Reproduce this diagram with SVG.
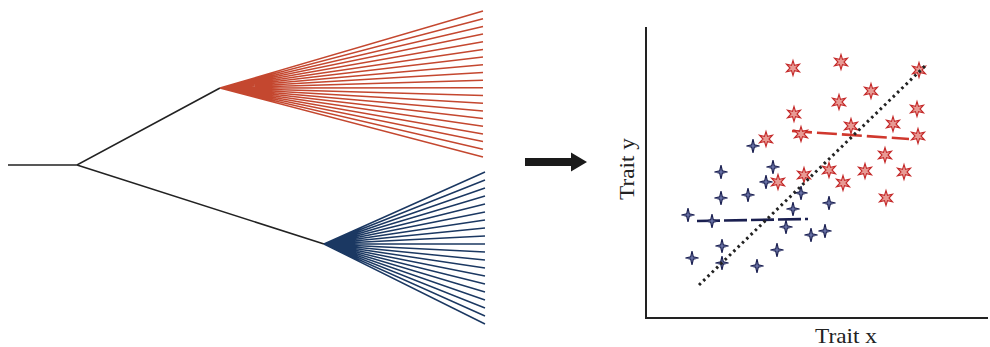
<svg xmlns="http://www.w3.org/2000/svg" xmlns:xlink="http://www.w3.org/1999/xlink" width="990" height="347" viewBox="0 0 990 347">
<defs>
<style>
.tree{stroke:#222;stroke-width:1.6;fill:none}
.red{stroke:#c4472f;stroke-width:1.5;fill:none}
.blue{stroke:#1b3862;stroke-width:1.5;fill:none}
.axis{stroke:#222;stroke-width:2;fill:none}
.lbl{font-family:"Liberation Serif","DejaVu Serif",serif;font-size:22px;fill:#222}
.rs{fill:#e89a94;stroke:#c42a2a;stroke-width:1.1;stroke-linejoin:miter}
.bs{fill:#6c75a8;stroke:#1a1f50;stroke-width:1.1}
</style>
<path id="r6" d="M0,-7.5 L1.5,-2.6 L6.5,-3.75 L3,0 L6.5,3.75 L1.5,2.6 L0,7.5 L-1.5,2.6 L-6.5,3.75 L-3,0 L-6.5,-3.75 L-1.5,-2.6 Z"/>
<path id="b4" d="M0,-7 L1.3,-1.3 L6.5,0 L1.3,1.3 L0,7 L-1.3,1.3 L-6.5,0 L-1.3,-1.3 Z"/>
</defs>
<rect width="990" height="347" fill="#fff"/>
<g id="tree">
<path class="tree" d="M8,165 H77 L220,88 M77,165 L324,244"/>
</g>
<g id="red-clade">
<path class="red" d="M220,88 L483,11 M220,88 L483,18.7 M220,88 L483,26.4 M220,88 L483,34.1 M220,88 L483,41.7 M220,88 L483,49.4 M220,88 L483,57.1 M220,88 L483,64.8 M220,88 L483,72.5 M220,88 L483,80.2 M220,88 L483,87.8 M220,88 L483,95.5 M220,88 L483,103.2 M220,88 L483,110.9 M220,88 L483,118.6 M220,88 L483,126.3 M220,88 L483,133.9 M220,88 L483,141.6 M220,88 L483,149.3 M220,88 L483,157"/>
</g>
<g id="blue-clade">
<path class="blue" d="M324,244 L485,172 M324,244 L485,180 M324,244 L485,188 M324,244 L485,196 M324,244 L485,204 M324,244 L485,212 M324,244 L485,220 M324,244 L485,228 M324,244 L485,236 M324,244 L485,244 M324,244 L485,252 M324,244 L485,260 M324,244 L485,268 M324,244 L485,276 M324,244 L485,284 M324,244 L485,292 M324,244 L485,300 M324,244 L485,308 M324,244 L485,316 M324,244 L485,324"/>
</g>
<g id="arrow">
<path d="M525,158 H571 V152.5 L587,162 L571,171.5 V166 H525 Z" fill="#1a1a1a"/>
</g>
<g id="plot">
<path class="axis" d="M646,27 V318 H988"/>
<text class="lbl" x="846" y="343" text-anchor="middle" textLength="62" lengthAdjust="spacingAndGlyphs">Trait x</text>
<text class="lbl" transform="translate(634,169) rotate(-90)" text-anchor="middle" textLength="62" lengthAdjust="spacingAndGlyphs">Trait y</text>
</g>
<g id="connectors">
<path d="M697,221 L808,219" stroke="#1a1f50" stroke-width="2.6" stroke-dasharray="23 4" fill="none"/>
<path d="M792,131 L909,139" stroke="#d0382e" stroke-width="2.6" stroke-dasharray="20 5" fill="none"/>
</g>
<g id="blue-points" class="bs">
<use xlink:href="#b4" x="753" y="146"/>
<use xlink:href="#b4" x="721" y="172"/>
<use xlink:href="#b4" x="773" y="167"/>
<use xlink:href="#b4" x="766" y="182"/>
<use xlink:href="#b4" x="721" y="198"/>
<use xlink:href="#b4" x="748" y="195"/>
<use xlink:href="#b4" x="801" y="193"/>
<use xlink:href="#b4" x="829" y="203"/>
<use xlink:href="#b4" x="793" y="209"/>
<use xlink:href="#b4" x="688" y="215"/>
<use xlink:href="#b4" x="712" y="221"/>
<use xlink:href="#b4" x="786" y="227"/>
<use xlink:href="#b4" x="811" y="235"/>
<use xlink:href="#b4" x="825" y="231"/>
<use xlink:href="#b4" x="722" y="246"/>
<use xlink:href="#b4" x="692" y="258"/>
<use xlink:href="#b4" x="777" y="250"/>
<use xlink:href="#b4" x="722" y="263"/>
<use xlink:href="#b4" x="757" y="266"/>
</g>
<g id="red-points" class="rs">
<use xlink:href="#r6" x="793" y="68"/>
<use xlink:href="#r6" x="841" y="62"/>
<use xlink:href="#r6" x="919" y="70"/>
<use xlink:href="#r6" x="871" y="91"/>
<use xlink:href="#r6" x="839" y="102"/>
<use xlink:href="#r6" x="794" y="114"/>
<use xlink:href="#r6" x="917" y="109"/>
<use xlink:href="#r6" x="851" y="126"/>
<use xlink:href="#r6" x="893" y="124"/>
<use xlink:href="#r6" x="801" y="134"/>
<use xlink:href="#r6" x="918" y="136"/>
<use xlink:href="#r6" x="766" y="139"/>
<use xlink:href="#r6" x="885" y="155"/>
<use xlink:href="#r6" x="829" y="170"/>
<use xlink:href="#r6" x="865" y="171"/>
<use xlink:href="#r6" x="904" y="172"/>
<use xlink:href="#r6" x="804" y="175"/>
<use xlink:href="#r6" x="843" y="183"/>
<use xlink:href="#r6" x="778" y="182"/>
<use xlink:href="#r6" x="886" y="198"/>
</g>
<g id="trend">
<path d="M699,285 L925,66" stroke="#222" stroke-width="3" stroke-dasharray="2.5 3.5" fill="none"/>
</g>
</svg>
